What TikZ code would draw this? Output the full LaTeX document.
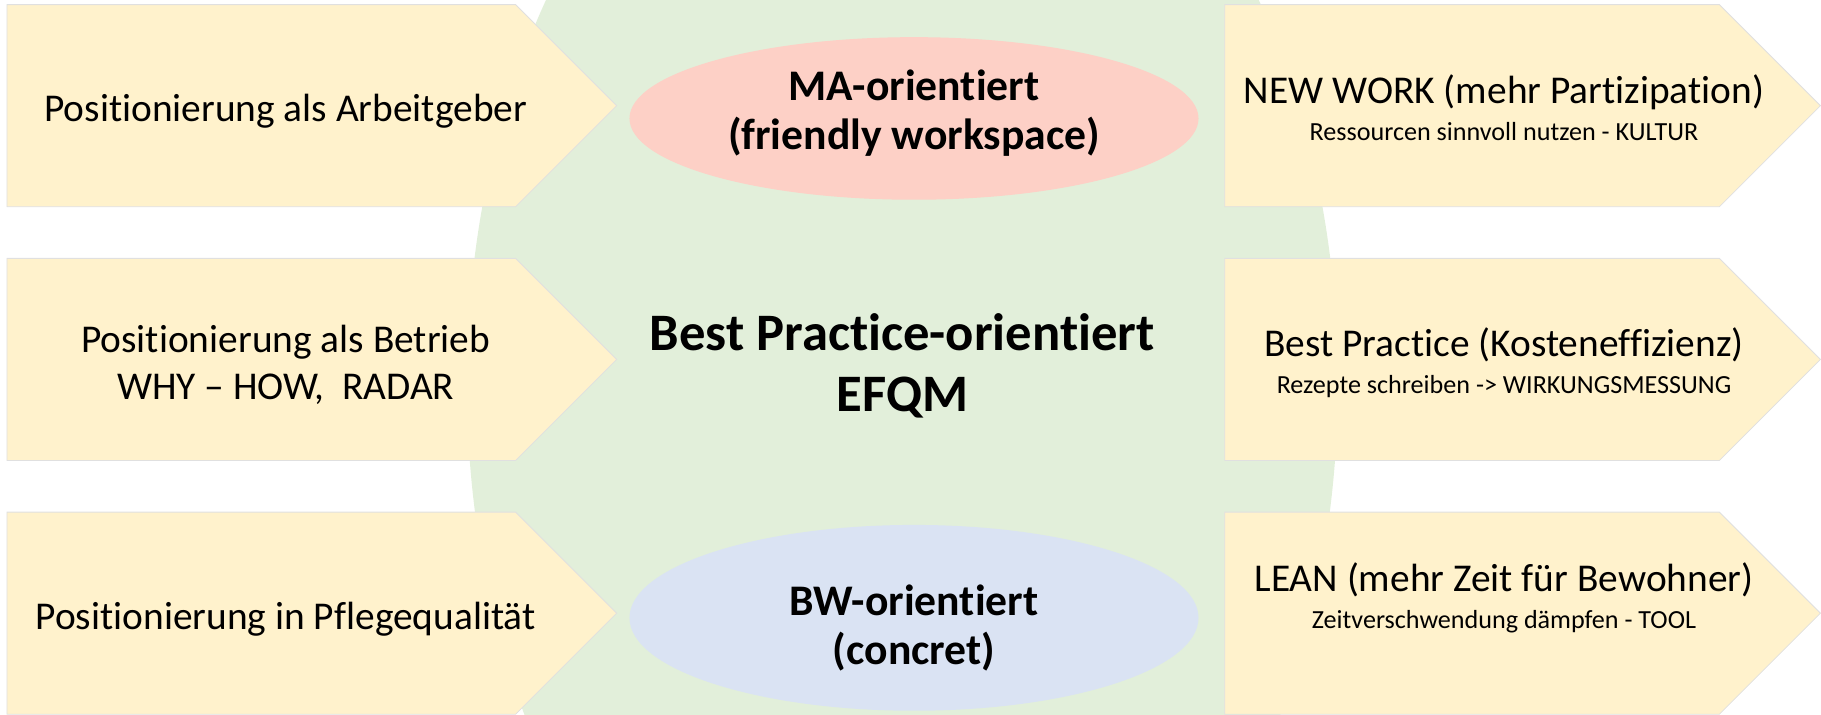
\documentclass[tikz,border=0pt]{standalone}
\usepackage{fontspec}
\setmainfont{Carlito}[Ligatures=NoCommon]
\usetikzlibrary{shapes.symbols,shapes.geometric,positioning}
\definecolor{arrowfill}{HTML}{FFF2CC}
\definecolor{bggreen}{HTML}{E2EFDA}
\definecolor{mapink}{HTML}{FDD0C6}
\definecolor{bwblue}{HTML}{DAE3F3}
\begin{document}
\begin{tikzpicture}[node distance=4.37cm]
    \tikzstyle{posbox} = [signal, signal to=east, signal pointer angle=90, minimum width=10.5cm, minimum height=3.48cm, inner sep=0pt, draw=black!12, line width=0.4pt, fill=arrowfill]
    \tikzstyle{postext} = [align=center, font=\fontsize{19.3}{23}\selectfont]
    \tikzstyle{goal} = [ellipse, minimum width=9.8cm]
    \tikzstyle{goaltext} = [align=center, font=\fontsize{21.4}{24}\selectfont\bfseries]

    \useasboundingbox (0,0) rectangle (31.36,12.3);

    % Background
    \node [ellipse, fill=bggreen, minimum width=15cm, minimum height=22.96cm] (efqm) at (15.54,5.7) {};

    % Positioning (left)
    \node [posbox] (arbeitgeber) at (4.5,10.48) {};
    \node [posbox, below of=arbeitgeber] (betrieb) {};
    \node [posbox, below of=betrieb] (pflege) {};

    % Approaches (right)
    \node [posbox, minimum width=10.26cm, right of=arbeitgeber, xshift=16.48cm] (newwork) {};
    \node [posbox, minimum width=10.26cm, right of=betrieb, xshift=16.48cm] (bestpractice) {};
    \node [posbox, minimum width=10.26cm, right of=pflege, xshift=16.48cm] (lean) {};

    % Orientation
    \node [goal, fill=mapink, minimum height=2.8cm] (ma) at (15.74,10.26) {};
    \node [goal, fill=bwblue, minimum height=3.2cm] (bw) at (15.74,1.66) {};
    \node [goaltext, yshift=0.09cm] (matext) at (ma.center) {MA-orientiert\\(friendly workspace)};
    \node [goaltext, yshift=-0.17cm] (bwtext) at (bw.center) {BW-orientiert\\(concret)};
    \node [align=center, font=\fontsize{25.8}{30}\selectfont\bfseries] (center) at (15.54,6.0) {Best Practice-orientiert\\EFQM};

    % Texts
    \node [postext, xshift=0.42cm, yshift=-0.1cm] (t1) at (arbeitgeber.center) {Positionierung als Arbeitgeber};
    \node [postext, xshift=0.42cm, yshift=-0.1cm] (t2) at (betrieb.center) {Positionierung als Betrieb\\WHY -- HOW,~ RADAR};
    \node [postext, xshift=0.42cm, yshift=-0.1cm] (t3) at (pflege.center) {Positionierung in Pflegequalität};

    \node [postext, xshift=0.55cm, yshift=-0.04cm] (t4) at (newwork.center) {NEW WORK (mehr Partizipation)\\[-5pt]{\fontsize{12.8}{15}\selectfont Ressourcen sinnvoll nutzen - KULTUR}};
    \node [postext, xshift=0.55cm, yshift=-0.06cm] (t5) at (bestpractice.center) {Best Practice (Kosteneffizienz)\\[-5pt]{\fontsize{12.8}{15}\selectfont Rezepte schreiben -> WIRKUNGSMESSUNG}};
    \node [postext, xshift=0.55cm, yshift=0.26cm] (t6) at (lean.center) {LEAN (mehr Zeit für Bewohner)\\[-5pt]{\fontsize{12.8}{15}\selectfont Zeitverschwendung dämpfen - TOOL}};
\end{tikzpicture}
\end{document}
